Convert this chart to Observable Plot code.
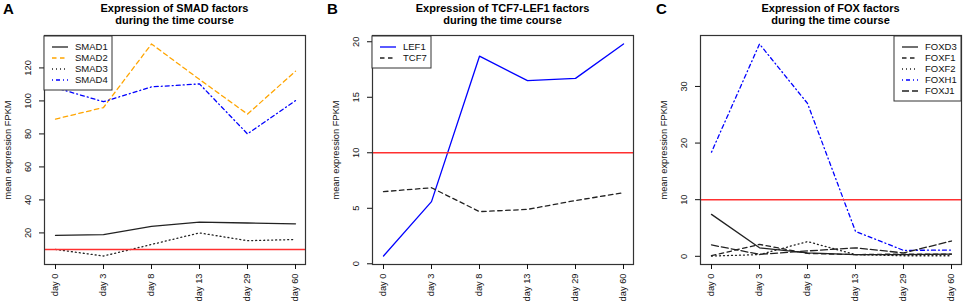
<!DOCTYPE html>
<html>
<head>
<meta charset="utf-8">
<script src="https://cdn.jsdelivr.net/npm/d3@7"></script>
<script src="https://cdn.jsdelivr.net/npm/@observablehq/plot@0.6"></script>
<style>
  html, body { margin: 0; padding: 0; background: white; }
  #wrap { position: relative; width: 964px; height: 305px; overflow: hidden; font-family: "Liberation Sans", Arial, sans-serif; }
  .panel { position: absolute; top: 0; }
  #overlay { position: absolute; left: 0; top: 0; pointer-events: none; }
</style>
</head>
<body>
<div id="wrap"></div>
<script>
// ---- data ----
const days = ["day 0", "day 3", "day 8", "day 13", "day 29", "day 60"];
const threshold = 10;

const smadGenes = ["SMAD1", "SMAD2", "SMAD3", "SMAD4"];
const smad1 = [18.5, 19, 24, 26.5, 26, 25.5];
const smad2 = [89, 96, 134.5, 113, 92, 118];
const smad3 = [10, 6, 13, 20, 15.3, 16];
const smad4 = [108, 99.5, 108.5, 110.3, 80, 100.2];
const smadTicks = [20, 40, 60, 80, 100, 120];

const tcfGenes = ["LEF1", "TCF7"];
const lef1 = [0.7, 5.6, 18.7, 16.5, 16.7, 19.8];
const tcf7 = [6.5, 6.85, 4.7, 4.9, 5.7, 6.4];
const tcfTicks = [0, 5, 10, 15, 20];

const foxGenes = ["FOXD3", "FOXF1", "FOXF2", "FOXH1", "FOXJ1"];
const foxd3 = [7.4, 1.5, 0.6, 0.3, 0.3, 0.4];
const foxf1 = [0.1, 2.1, 0.5, 0.3, 0.4, 0.4];
const foxf2 = [0.05, 0.3, 2.6, 0.3, 0.1, 0.1];
const foxh1 = [18.4, 37.5, 27, 4.4, 1.05, 1.1];
const foxj1 = [2.0, 0.35, 0.95, 1.5, 0.6, 2.7];
const foxTicks = [0, 10, 20, 30];

const titlesA = ["Expression of SMAD factors", "during the time course"];
const titlesB = ["Expression of TCF7-LEF1 factors", "during the time course"];
const titlesC = ["Expression of FOX factors", "during the time course"];
const yLabel = "mean expression FPKM";

// ---- styles ----
const DASH = {solid: null, dashed: "4.5,3.5", dotted: "1,3", dotdash: "1,3,4,3", longdash: "7,3"};

const panels = [
  {letter: "A", titles: titlesA, genes: smadGenes, series: [smad1, smad2, smad3, smad4],
   colors: ["#222", "orange", "#222", "blue"], dashes: [DASH.solid, DASH.dashed, DASH.dotted, DASH.dotdash],
   ticks: smadTicks, left: 0, width: 321, ml: 44, mr: 16, legend: "left", letterX: 3},
  {letter: "B", titles: titlesB, genes: tcfGenes, series: [lef1, tcf7],
   colors: ["blue", "#222"], dashes: [DASH.solid, DASH.dashed],
   ticks: tcfTicks, left: 321, width: 321, ml: 51, mr: 9, legend: "left", letterX: 327},
  {letter: "C", titles: titlesC, genes: foxGenes, series: [foxd3, foxf1, foxf2, foxh1, foxj1],
   colors: ["#222", "#222", "#222", "blue", "#222"], dashes: [DASH.solid, DASH.dashed, DASH.dotted, DASH.dotdash, DASH.longdash],
   ticks: foxTicks, left: 642, width: 322, ml: 58, mr: 3, legend: "right", letterX: 656}
];

const MT = 35, MB = 41, H = 305;
const wrap = document.getElementById("wrap");

for (const p of panels) {
  const all = p.series.flat();
  const lo = d3.min(all), hi = d3.max(all), pad = (hi - lo) * 0.04;
  const marks = [
    ...p.series.map((vals, i) => Plot.line(days.map((d, j) => ({day: d, v: vals[j]})),
      {x: "day", y: "v", stroke: p.colors[i], strokeDasharray: p.dashes[i], strokeWidth: 1.3})),
    Plot.ruleY([threshold], {stroke: "#ff3030", strokeWidth: 1.5}),
    Plot.frame({stroke: "#333", strokeWidth: 1.2}),
    Plot.axisX({tickSize: 5, tickPadding: 4, tickRotate: -90, label: null}),
    Plot.axisY(p.ticks, {tickSize: 5, tickPadding: 9, tickRotate: -90, label: yLabel,
      labelAnchor: "center", labelOffset: 40, labelArrow: false})
  ];
  const chart = Plot.plot({
    width: p.width, height: H,
    marginLeft: p.ml, marginRight: p.mr, marginTop: MT, marginBottom: MB,
    x: {type: "point", domain: days, padding: 0.2},
    y: {domain: [lo - pad, hi + pad], nice: false, zero: false},
    style: {fontFamily: "'Liberation Sans', Arial, sans-serif", fontSize: "9.3px", background: "white", color: "#111"},
    marks
  });
  const div = document.createElement("div");
  div.className = "panel";
  div.style.left = p.left + "px";
  div.appendChild(chart);
  wrap.appendChild(div);
}

// ---- overlay: panel letters, titles, legends ----
const svg = d3.select(wrap).append("svg").attr("id", "overlay")
  .attr("width", 964).attr("height", H)
  .style("font-family", "'Liberation Sans', Arial, sans-serif");

for (const p of panels) {
  const boxL = p.left + p.ml, boxR = p.left + p.width - p.mr;
  const cx = (boxL + boxR) / 2;
  svg.append("text").attr("x", p.letterX).attr("y", 14).attr("font-weight", "bold")
    .attr("font-size", 15).text(p.letter);
  p.titles.forEach((t, i) => {
    svg.append("text").attr("x", cx).attr("y", 12 + i * 12).attr("text-anchor", "middle")
      .attr("font-weight", "bold").attr("font-size", 11).text(t);
  });
  // legend
  const g = svg.append("g");
  const rowH = 11, top = 36;
  const rect = g.append("rect").attr("fill", "white").attr("stroke", "#333").attr("stroke-width", 1);
  let maxW = 0;
  p.genes.forEach((name, i) => {
    const y = top + 11 + i * rowH;
    g.append("line").attr("x1", 8).attr("x2", 24).attr("y1", y).attr("y2", y)
      .attr("stroke", p.colors[i]).attr("stroke-width", 1.3)
      .attr("stroke-dasharray", p.dashes[i]);
    const t = g.append("text").attr("x", 31).attr("y", y).attr("dy", "0.35em")
      .attr("font-size", 9.5).attr("fill", "#111").text(name);
    maxW = Math.max(maxW, t.node().getComputedTextLength());
  });
  const w = Math.round(31 + maxW + 4);
  const h = 11 + (p.genes.length - 1) * rowH + 10;
  rect.attr("x", 0).attr("y", top).attr("width", w).attr("height", h);
  const gx = p.legend === "left" ? boxL : boxR - w;
  g.attr("transform", `translate(${gx},0)`);
}
</script>
</body>
</html>
